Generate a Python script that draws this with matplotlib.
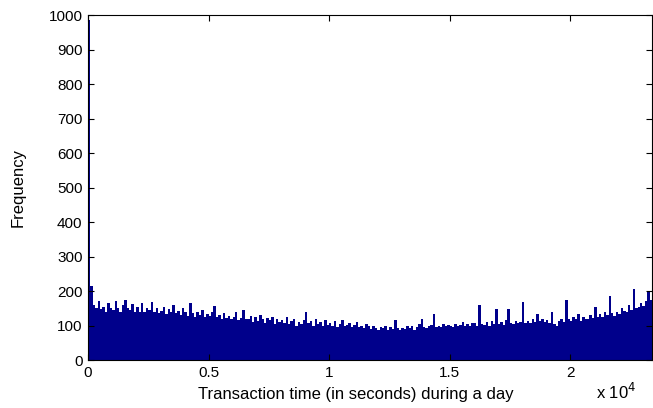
import numpy as np
import matplotlib
matplotlib.use("Agg")
import matplotlib.pyplot as plt
from matplotlib.ticker import FuncFormatter

plt.rcParams['font.family'] = ['Liberation Sans', 'DejaVu Sans']

# histogram counts, 100 second bins over a 6.5 hour trading day
bin_width = 100
counts = [
    985, 215, 160, 150, 172, 148, 155, 140, 165, 150,
    145, 170, 152, 140, 160, 175, 150, 145, 162, 140,
    155, 140, 165, 138, 150, 145, 168, 140, 150, 135,
    142, 155, 132, 148, 138, 160, 135, 142, 130, 150,
    138, 128, 166, 135, 125, 140, 130, 145, 125, 132,
    128, 140, 157, 125, 130, 118, 135, 122, 128, 120,
    125, 138, 115, 122, 145, 118, 120, 128, 110, 125,
    112, 130, 118, 108, 122, 115, 125, 105, 118, 110,
    115, 108, 125, 105, 112, 118, 100, 110, 104, 115,
    140, 108, 112, 100, 118, 105, 110, 98, 115, 102,
    108, 100, 112, 96, 105, 115, 98, 102, 108, 95,
    102, 110, 95, 100, 92, 105, 98, 90, 100, 94,
    88, 96, 92, 100, 86, 95, 90, 116, 92, 88,
    94, 90, 98, 92, 100, 88, 96, 104, 119, 95,
    92, 98, 102, 133, 95, 100, 96, 104, 98, 102,
    100, 96, 105, 98, 102, 110, 100, 104, 98, 106,
    108, 100, 159, 104, 102, 110, 100, 112, 104, 147,
    105, 110, 102, 115, 147, 108, 104, 112, 106, 110,
    169, 108, 114, 106, 120, 110, 133, 112, 118, 110,
    116, 108, 140, 104, 100, 112, 118, 110, 174, 120,
    112, 126, 118, 132, 114, 124, 120, 118, 130, 122,
    155, 126, 132, 124, 138, 130, 185, 136, 128, 140,
    134, 150, 142, 138, 160, 145, 205, 150, 155, 165,
    158, 170, 200, 175,
]
x_ticks = [0, 5000, 10000, 15000, 20000]
y_ticks = [0, 100, 200, 300, 400, 500, 600, 700, 800, 900, 1000]

edges = np.arange(len(counts) + 1) * bin_width

fig = plt.figure(figsize=(6.53, 4.08), dpi=100)
ax = fig.add_axes([0.1348, 0.1176, 0.8637, 0.8456])

# solid filled histogram, no gaps between bins
ax.stairs(counts, edges, fill=True, color='#00008B', linewidth=0)

ax.set_xlim(0, edges[-1])
ax.set_ylim(0, 1000)
ax.set_xticks(x_ticks)
ax.set_yticks(y_ticks)
ax.xaxis.set_major_formatter(FuncFormatter(lambda v, p: '%g' % (v / 1e4)))
ax.tick_params(direction='in', top=True, right=True, labelsize=11, length=4, pad=4)
for s in ax.spines.values():
    s.set_linewidth(0.8)

ax.set_xlabel('Transaction time (in seconds) during a day', fontsize=12)
ax.xaxis.set_label_coords(0.475, -0.078)
ax.set_ylabel('Frequency', fontsize=12)
ax.yaxis.set_label_coords(-0.11, 0.5)
fig.text(0.912, 0.014, r'x 10$^4$', fontsize=12, ha='left', va='bottom')

fig.savefig('out.png', dpi=100)
